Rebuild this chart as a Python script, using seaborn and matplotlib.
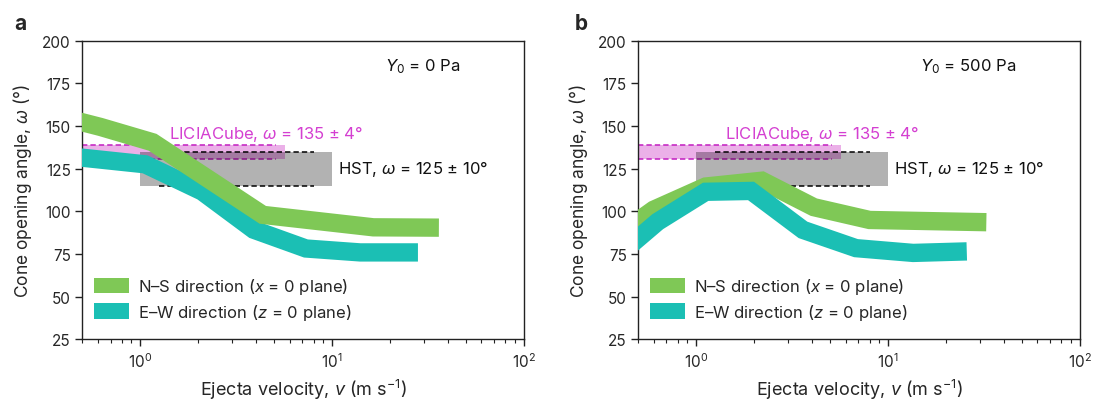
import matplotlib
matplotlib.use('Agg')
import pandas as pd
import matplotlib.pyplot as plt
import seaborn as sns
from matplotlib.patches import Patch

# --- data: centre lines of the thick bands (v in m/s, omega in deg) ---
# panel a, Y0 = 0 Pa
ns_v_a = [0.45, 0.62, 1.16, 4.35, 16.4, 36.0]
ns_w_a = [153.5, 149.5, 140.5, 98.0, 90.7, 90.5]
ew_v_a = [0.45, 1.06, 2.1, 3.9, 7.3, 14.0, 28.0]
ew_w_a = [132.0, 127.6, 111.7, 89.3, 78.3, 76.0, 76.0]

# panel b, Y0 = 500 Pa
ns_v_b = [0.45, 0.6, 1.12, 2.2, 4.1, 8.0, 32.5]
ns_w_b = [91.0, 101.0, 114.6, 118.0, 102.5, 95.0, 93.7]
ew_v_b = [0.45, 0.63, 1.12, 1.93, 3.6, 6.8, 13.5, 25.7]
ew_w_b = [80.0, 94.0, 111.5, 112.0, 89.2, 78.5, 75.7, 76.6]

# observations
lici_w, lici_err = 135, 4
lici_fill_v = [0.5, 5.65]
lici_dash_v = [0.5, 5.1]
hst_w, hst_err = 125, 10
hst_fill_v = [1.0, 10.0]
hst_dash_v = [1.25, 8.0]

panel_labels = ['a', 'b']
y0_labels = ['$Y_0$ = 0 Pa', '$Y_0$ = 500 Pa']
legend_labels = ['N\u2013S direction ($x$ = 0 plane)',
                 'E\u2013W direction ($z$ = 0 plane)']

GREEN = '#7fc856'
TEAL = '#1bbfb4'
PINK = '#ebb0e8'
MAG_DASH = '#c21dc0'
MAG_TEXT = '#d43fd1'

sns.set_theme(style='ticks')
plt.rcParams['font.family'] = ['Inter', 'DejaVu Sans']
plt.rcParams['mathtext.fontset'] = 'custom'
plt.rcParams['mathtext.rm'] = 'Inter'
plt.rcParams['mathtext.it'] = 'Inter:italic'
plt.rcParams['mathtext.bf'] = 'Inter:bold'
plt.rcParams['axes.edgecolor'] = '#222222'
plt.rcParams['axes.linewidth'] = 1.0

fig = plt.figure(figsize=(10.94, 4.02), dpi=100)
ax_a = fig.add_axes([0.0754, 0.153, 0.4036, 0.7433])
ax_b = fig.add_axes([0.5836, 0.153, 0.4036, 0.7433])

panels = [
    (ax_a, ns_v_a, ns_w_a, ew_v_a, ew_w_a, True),
    (ax_b, ns_v_b, ns_w_b, ew_v_b, ew_w_b, False),
]

for i, (ax, nsv, nsw, ewv, eww, green_on_top) in enumerate(panels):
    # LICIACube band
    ax.fill_between(lici_fill_v, lici_w - lici_err, lici_w + lici_err,
                    color=PINK, lw=0, zorder=1)
    for yy in (lici_w - lici_err, lici_w + lici_err):
        ax.plot(lici_dash_v, [yy, yy], ls=(0, (3.5, 2)), color=MAG_DASH, lw=1.1, zorder=2)
    # HST box
    ax.fill_between(hst_fill_v, hst_w - hst_err, hst_w + hst_err,
                    color='black', alpha=0.3, lw=0, zorder=3)
    for yy in (hst_w - hst_err, hst_w + hst_err):
        ax.plot(hst_dash_v, [yy, yy], ls=(0, (3.5, 2)), color='black', lw=1.1, zorder=3.5)

    df_ns = pd.DataFrame({'v': nsv, 'w': nsw})
    df_ew = pd.DataFrame({'v': ewv, 'w': eww})
    z_ns, z_ew = (5, 4) if green_on_top else (4, 5)
    kw = dict(x='v', y='w', ax=ax, estimator=None, sort=False, lw=13.2,
              solid_capstyle='butt', solid_joinstyle='miter')
    sns.lineplot(data=df_ns, color=GREEN, zorder=z_ns, **kw)
    sns.lineplot(data=df_ew, color=TEAL, zorder=z_ew, **kw)

    ax.text(1.42, 146, 'LICIACube, $\\omega$ = 135 \u00b1 4\u00b0', color=MAG_TEXT,
            fontsize=12, va='center', ha='left', zorder=6)
    ax.text(10.7, 125.5, 'HST, $\\omega$ = 125 \u00b1 10\u00b0', color='#111111',
            fontsize=12, va='center', ha='left', zorder=6)
    ax.text(0.855, 0.915, y0_labels[i], transform=ax.transAxes, fontsize=12,
            ha='right', va='center', color='#111111')

    ax.set_xscale('log')
    ax.set_xlim(0.5, 100)
    ax.set_ylim(25, 200)
    ax.set_yticks(range(25, 201, 25))
    ax.set_xlabel('Ejecta velocity, $v$ (m s$^{-1}$)', fontsize=13, labelpad=5)
    ax.set_ylabel('Cone opening angle, $\\omega$ (\u00b0)', fontsize=12.5, labelpad=6)
    ax.tick_params(axis='both', which='major', labelsize=11, length=5,
                   width=1, color='#222222', direction='out')
    ax.tick_params(axis='x', which='minor', length=3, width=0.8, color='#222222')
    for s in ax.spines.values():
        s.set_visible(True)

    handles = [Patch(facecolor=GREEN, edgecolor='none'),
               Patch(facecolor=TEAL, edgecolor='none')]
    ax.legend(handles, legend_labels, loc='lower left', bbox_to_anchor=(0.0, 0.02),
              frameon=False, fontsize=12, handlelength=2.1, handleheight=1.05,
              handletextpad=0.55, labelspacing=0.35, borderaxespad=0.3)

    fig.text(0.0754 - 0.062 if i == 0 else 0.5836 - 0.058, 0.915, panel_labels[i],
             fontsize=15, fontweight='bold', ha='left', va='bottom')

fig.savefig('out.png', dpi=100)
